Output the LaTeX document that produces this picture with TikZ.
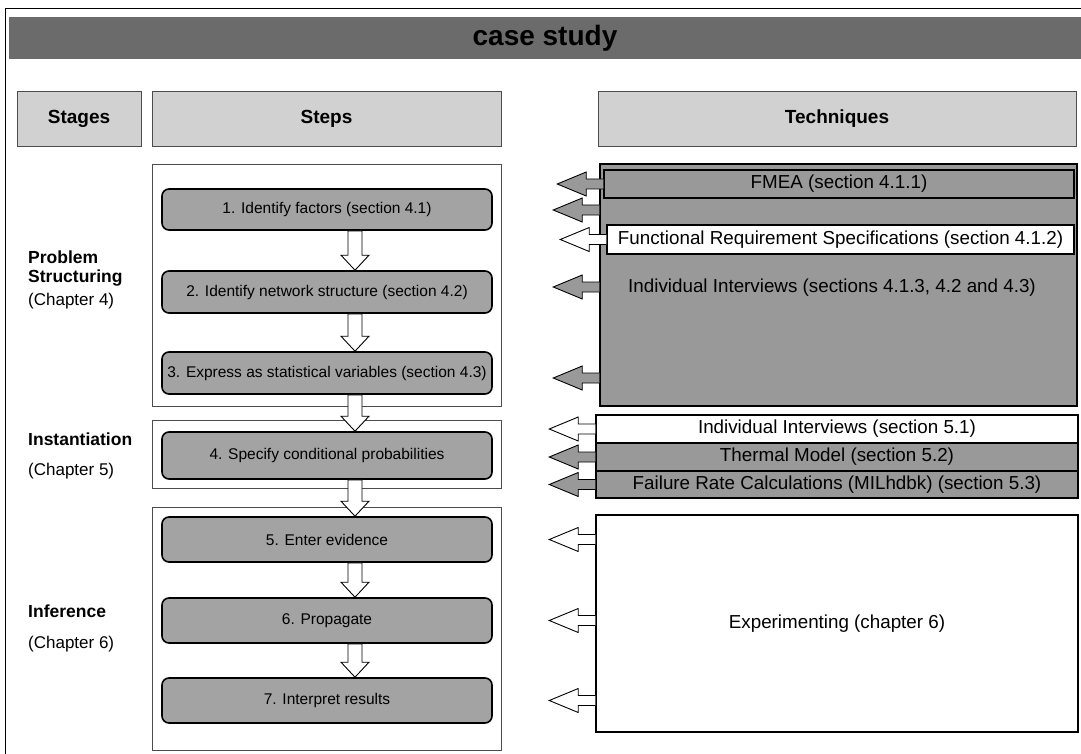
\documentclass[tikz,border=0pt]{standalone}
\usepackage{fontspec}
\setmainfont{Liberation Sans}
\usetikzlibrary{calc}

\definecolor{bandgray}{gray}{0.42}
\definecolor{headgray}{gray}{0.82}
\definecolor{stepgray}{gray}{0.64}
\definecolor{techgray}{gray}{0.60}

\tikzset{
  band/.style={fill=bandgray, inner sep=0pt, font=\fontsize{28}{30}\selectfont\bfseries},
  head/.style={draw=gray!60!black, fill=headgray, inner sep=0pt, font=\fontsize{19}{22}\selectfont\bfseries},
  group/.style={draw=gray!60!black, fill=white},
  stepbox/.style={draw=black, line width=1.6pt, rounded corners=7pt, fill=stepgray,
    minimum width=330, inner sep=0pt, font=\fontsize{15.5}{18}\selectfont},
  tech/.style={draw=black, line width=1.5pt, fill=techgray, inner sep=0pt, font=\fontsize{18.8}{21}\selectfont},
  stage/.style={anchor=west, inner sep=0pt, font=\fontsize{17.5}{20}\selectfont\bfseries},
  chap/.style={anchor=west, inner sep=0pt, font=\fontsize{17}{20}\selectfont},
  blockarrow/.style={draw=black, line width=0.9pt, fill=#1, line join=miter},
}

% open block arrow between two steps
\newcommand{\stepdown}[2]{%
  \draw[blockarrow=white] ($(#1.south)+(21,0)$) -- ($(#2.north)+(21,-15)$) -- ($(#2.north)+(14,-15)$)
    -- ($(#2.north)+(28,0)$) -- ($(#2.north)+(42,-15)$) -- ($(#2.north)+(35,-15)$) -- ($(#1.south)+(35,0)$) -- cycle;}
% block arrow from a technique towards the steps
\newcommand{\techleft}[2]{%
  \draw[blockarrow=#2] ($(#1)+(0,-5)$) -- ++(-17,0) -- ++(0,-7) -- ++(-29,12) -- ++(29,12) -- ++(0,-7) -- ++(17,0);}

\begin{document}
\begin{tikzpicture}[x=1pt, y=-1pt]
  \useasboundingbox (0,0) rectangle (1081,754);

  % frame and title band
  \draw[thin] (5,754) -- (5,8) -- (1081,8);
  \node[band, minimum width=1072, minimum height=42] (title) at (545,38) {case study};

  % column headers
  \node[head, minimum width=124, minimum height=55] (stages) at (79,118.5) {Stages};
  \node[head, minimum width=349, minimum height=55] (steps) at (326.5,118.5) {Steps};
  \node[head, minimum width=478, minimum height=55] (techniques) at (837,118.5) {Techniques};

  % step groups
  \draw[group] (152,164) rectangle (501,406);
  \draw[group] (152,420) rectangle (501,488);
  \draw[group] (152,507) rectangle (501,750);

  % steps
  \node[stepbox, minimum height=41] (s1) at (327,209.5) {1. Identify factors (section 4.1)};
  \node[stepbox, minimum height=42] (s2) at (327,292) {2. Identify network structure (section 4.2)};
  \node[stepbox, minimum height=42] (s3) at (327,373) {3. Express as statistical variables (section 4.3)};
  \node[stepbox, minimum height=47] (s4) at (327,455.5) {4. Specify conditional probabilities};
  \node[stepbox, minimum height=45] (s5) at (327,539.5) {5. Enter evidence};
  \node[stepbox, minimum height=45] (s6) at (327,620.5) {6. Propagate};
  \node[stepbox, minimum height=45] (s7) at (327,700.5) {7. Interpret results};

  \stepdown{s1}{s2}
  \stepdown{s2}{s3}
  \stepdown{s3}{s4}
  \stepdown{s4}{s5}
  \stepdown{s5}{s6}
  \stepdown{s6}{s7}

  % stages
  \node[stage] (ps1) at (28,257) {Problem};
  \node[stage] (ps2) at (28,278) {Structuring};
  \node[chap] (ch4) at (28,301) {(Chapter 4)};
  \node[stage] (inst) at (28,439) {Instantiation};
  \node[chap] (ch5) at (28,471) {(Chapter 5)};
  \node[stage] (infer) at (28,611) {Inference};
  \node[chap] (ch6) at (28,644) {(Chapter 6)};

  % techniques, problem structuring
  \node[tech, minimum width=477, minimum height=242] (int1) at (838.5,285) {};
  \node[font=\fontsize{18.8}{21}\selectfont, inner sep=0pt] (int1txt) at (832,288) {Individual Interviews (sections 4.1.3, 4.2 and 4.3)};
  \node[tech, minimum width=470, minimum height=28] (fmea) at (839,184) {FMEA (section 4.1.1)};
  \node[tech, fill=white, minimum width=467, minimum height=29] (frs) at (840.5,239.5) {Functional Requirement Specifications (section 4.1.2)};

  \techleft{fmea.west}{techgray}
  \techleft{int1.west |- 0,210}{techgray}
  \techleft{frs.west}{white}
  \techleft{int1.west |- 0,287}{techgray}
  \techleft{int1.west |- 0,378}{techgray}

  % techniques, instantiation
  \node[tech, fill=white, minimum width=482, minimum height=28] (int2) at (837,429) {Individual Interviews (section 5.1)};
  \node[tech, minimum width=482, minimum height=28] (thermal) at (837,457) {Thermal Model (section 5.2)};
  \node[tech, minimum width=482, minimum height=27] (fail) at (837,484.5) {Failure Rate Calculations (MILhdbk) (section 5.3)};

  \techleft{int2.west}{white}
  \techleft{thermal.west}{techgray}
  \techleft{fail.west}{techgray}

  % techniques, inference
  \node[tech, fill=white, minimum width=482, minimum height=217] (expm) at (837,623.5) {Experimenting (chapter 6)};

  \techleft{expm.west |- s5.east}{white}
  \techleft{expm.west |- s6.east}{white}
  \techleft{expm.west |- s7.east}{white}
\end{tikzpicture}
\end{document}
